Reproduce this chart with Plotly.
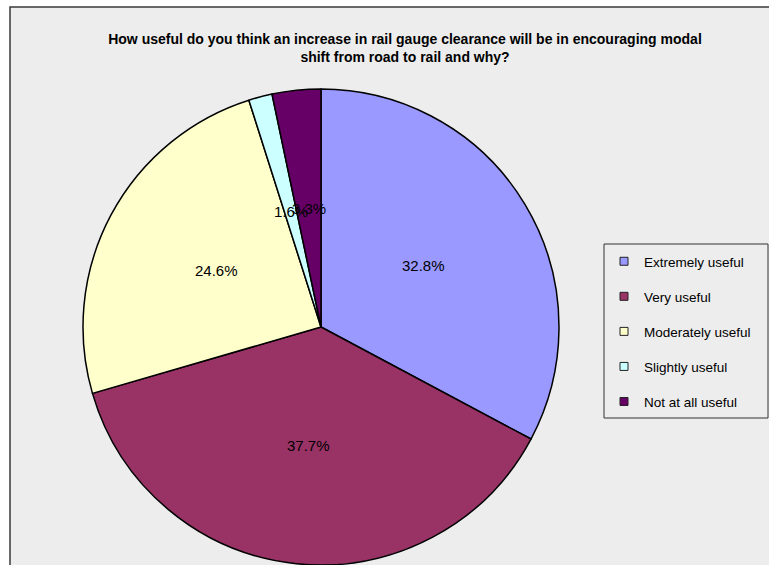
import math
import plotly.graph_objects as go

labels = ["Extremely useful", "Very useful", "Moderately useful", "Slightly useful", "Not at all useful"]
values = [32.8, 37.7, 24.6, 1.6, 3.3]
colors = ["#9999FF", "#993366", "#FFFFCC", "#CCFFFF", "#660066"]
title = "How useful do you think an increase in rail gauge clearance will be in encouraging modal<br>shift from road to rail and why?"

W, H = 769, 565
# pie centre and radius in pixels (from top-left)
cx, cy, r = 321, 327, 238

fig = go.Figure()
fig.add_trace(go.Pie(
    labels=labels, values=values, sort=False, direction="clockwise",
    marker=dict(colors=colors, line=dict(color="black", width=1.5)),
    textinfo="none", hoverinfo="label+percent", showlegend=False,
    domain=dict(x=[(cx - r) / W, (cx + r) / W], y=[(H - cy - r) / H, (H - cy + r) / H]),
))

# percentage labels at half radius, like the original
total = sum(values)
cum = 0
annos = []
for v in values:
    mid = (cum + v / 2) / total * 2 * math.pi
    cum += v
    annos.append(dict(
        x=(cx + 0.5 * r * math.sin(mid)) / W, y=(H - cy + 0.5 * r * math.cos(mid)) / H,
        xref="paper", yref="paper", xanchor="center", yanchor="middle",
        text=f"{v / total * 100:.1f}%", showarrow=False,
        font=dict(family="Liberation Sans", size=15, color="black"),
    ))

# legend entries
for lab, col in zip(labels, colors):
    fig.add_trace(go.Scatter(
        x=[None], y=[None], mode="markers", name=lab, legendgroup=lab,
        marker=dict(symbol="square", size=8, color=col, line=dict(color="#222222", width=1)),
    ))

fig.update_layout(
    width=W, height=H,
    margin=dict(l=0, r=0, t=0, b=0),
    paper_bgcolor="white", plot_bgcolor="rgba(0,0,0,0)",
    xaxis=dict(visible=False), yaxis=dict(visible=False),
    title=dict(text=title, x=405 / W, xanchor="center", y=1 - 44 / H, yanchor="top",
               font=dict(family="Liberation Sans", size=14, color="black", weight="bold")),
    annotations=annos,
    legend=dict(x=604 / W, y=1 - 246 / H, xanchor="left", yanchor="top",
                bgcolor="rgba(0,0,0,0)", tracegroupgap=14.5, traceorder="grouped",
                font=dict(family="Liberation Sans", size=13.5, color="black")),
    shapes=[
        dict(type="rect", xref="paper", yref="paper", x0=10 / W, x1=1.02, y0=-0.02, y1=1 - 7 / H,
             fillcolor="#EDEDED", line=dict(color="#3A3A3A", width=1.5), layer="below"),
        dict(type="rect", xref="paper", yref="paper", x0=604 / W, x1=768 / W, y0=1 - 418 / H, y1=1 - 244 / H,
             fillcolor="rgba(0,0,0,0)", line=dict(color="#333333", width=1), layer="below"),
    ],
)

fig.write_html("out.html", config={"displayModeBar": False},
               post_script="document.body.style.margin='0';")
